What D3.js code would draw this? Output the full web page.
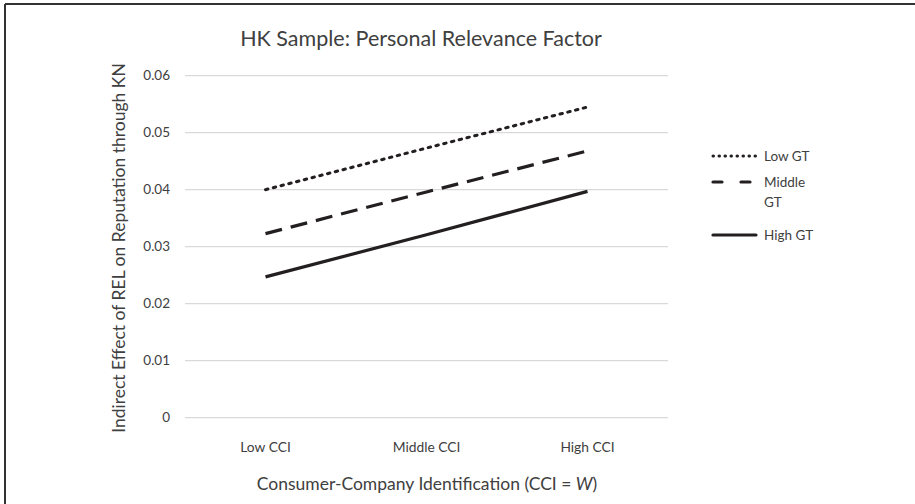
<!DOCTYPE html>
<html>
<head>
<meta charset="utf-8">
<script src="https://cdn.jsdelivr.net/npm/d3@7"></script>
<style>
  body { margin: 0; background: #fff; }
  text { font-family: Lato, "Open Sans", sans-serif; fill: #404040; }
</style>
</head>
<body>
<div id="container"></div>
<script>
var categories = ["Low CCI", "Middle CCI", "High CCI"];
var seriesNames = ["Low GT", "Middle GT", "High GT"];
var lowGT = [0.0400, 0.0473, 0.0545];
var middleGT = [0.0323, 0.0396, 0.0468];
var highGT = [0.0247, 0.0321, 0.0397];
var yTicks = [0, 0.01, 0.02, 0.03, 0.04, 0.05, 0.06];

var width = 915,
    height = 504

var margin = { left: 185, right: 247, top: 75.7, bottom: 86.3 }

var series = [
    { name: seriesNames[0], values: lowGT, dash: "2.5,5.5", cap: "round", legend: ["Low GT"] },
    { name: seriesNames[1], values: middleGT, dash: "17,9", cap: "butt", legend: ["Middle", "GT"] },
    { name: seriesNames[2], values: highGT, dash: null, cap: "butt", legend: ["High GT"] }
];

var svg = d3.select("div#container").append("svg")
    .attr("width", width)
    .attr("height", height)

// frame (top and left edges only)
svg.append("line").attr("x1", 5).attr("x2", width).attr("y1", 4).attr("y2", 4)
    .attr("stroke", "#333").attr("stroke-width", 2)
svg.append("line").attr("x1", 5).attr("x2", 5).attr("y1", 4).attr("y2", height)
    .attr("stroke", "#333").attr("stroke-width", 2)

var x = d3.scaleBand()
    .domain(categories)
    .range([margin.left, width - margin.right])

var y = d3.scaleLinear()
    .domain([0, 0.06])
    .range([height - margin.bottom, margin.top])

// gridlines
svg.append("g").selectAll("line")
    .data(yTicks)
    .enter().append("line")
    .attr("x1", x.range()[0])
    .attr("x2", x.range()[1])
    .attr("y1", function (d) { return y(d); })
    .attr("y2", function (d) { return y(d); })
    .attr("stroke", "#d9d9d9")
    .attr("stroke-width", 1.2)

// y tick labels
svg.append("g").selectAll("text")
    .data(yTicks)
    .enter().append("text")
    .attr("x", 170)
    .attr("y", function (d) { return y(d); })
    .attr("dy", "0.35em")
    .attr("text-anchor", "end")
    .style("font-size", "13.5px")
    .text(function (d) { return d === 0 ? "0" : d3.format(".2f")(d); })

// x category labels
svg.append("g").selectAll("text")
    .data(categories)
    .enter().append("text")
    .attr("x", function (d) { return x(d) + x.bandwidth() / 2; })
    .attr("y", 452)
    .attr("text-anchor", "middle")
    .style("font-size", "13.8px")
    .text(function (d) { return d; })

var line = d3.line()
    .x(function (d, i) { return x(categories[i]) + x.bandwidth() / 2; })
    .y(function (d) { return y(d); })

svg.append("g").selectAll("path")
    .data(series)
    .enter().append("path")
    .attr("d", function (d) { return line(d.values); })
    .attr("fill", "none")
    .attr("stroke", "#231f20")
    .attr("stroke-width", function (d) { return d.cap === "round" ? 3 : 3.2; })
    .attr("stroke-linecap", function (d) { return d.cap; })
    .attr("stroke-dasharray", function (d) { return d.dash; })

// legend
var legendY = [156, 182, 235];
var leg = svg.append("g").selectAll("g")
    .data(series)
    .enter().append("g")
    .attr("transform", function (d, i) { return "translate(0," + legendY[i] + ")"; })

leg.append("line")
    .attr("x1", 713).attr("x2", 756)
    .attr("stroke", "#231f20")
    .attr("stroke-width", function (d) { return d.cap === "round" ? 3 : 3.2; })
    .attr("stroke-linecap", "round")
    .attr("stroke-dasharray", function (d) { return d.cap === "round" ? "0.5,5.5" : (d.dash ? "9,19" : null); })

leg.append("text")
    .attr("x", 764)
    .style("font-size", "13.5px")
    .selectAll("tspan")
    .data(function (d) { return d.legend; })
    .enter().append("tspan")
    .attr("x", 764)
    .attr("dy", function (d, i) { return i === 0 ? "0.35em" : "20px"; })
    .text(function (d) { return d; })

// title
svg.append("text")
    .attr("x", 421)
    .attr("y", 46)
    .attr("text-anchor", "middle")
    .style("font-size", "21.5px")
    .text("HK Sample: Personal Relevance Factor")

// y axis title
svg.append("text")
    .attr("transform", "translate(125," + 248 + ") rotate(-90)")
    .attr("text-anchor", "middle")
    .style("font-size", "17.5px")
    .text("Indirect Effect of REL on Reputation through KN")

// x axis title
var xt = svg.append("text")
    .attr("x", 427)
    .attr("y", 490)
    .attr("text-anchor", "middle")
    .style("font-size", "17.5px")
xt.append("tspan").text("Consumer-Company Identification (CCI = ")
xt.append("tspan").style("font-style", "italic").text("W")
xt.append("tspan").text(")")
</script>
</body>
</html>
